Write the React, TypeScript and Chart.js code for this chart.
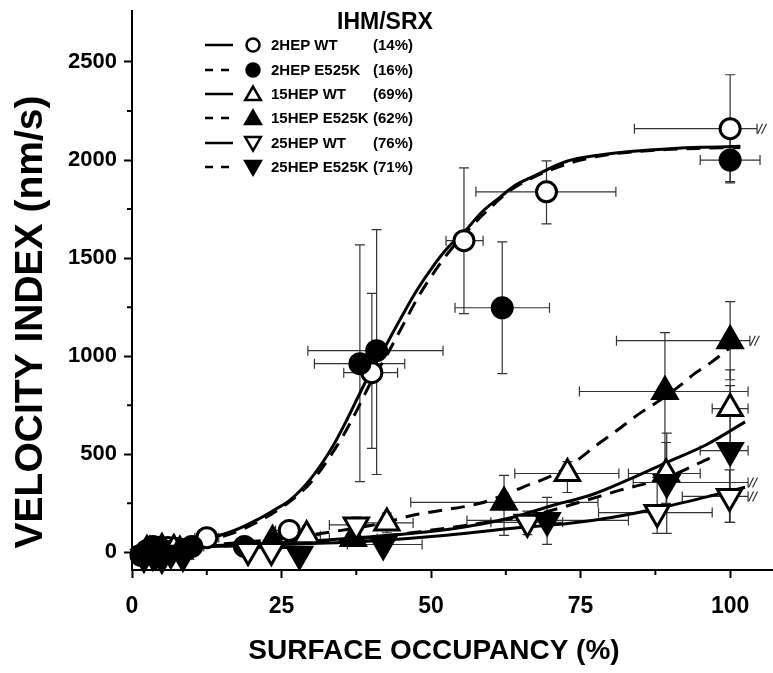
import { useEffect, useRef } from 'react';
import { Chart, registerables } from 'chart.js';
Chart.register(...registerables);

// [x, y, xMin, xMax, yMin, yMax]
type P = [number, number, number | null, number | null, number | null, number | null];

const hep2Wt: P[] = [
  [3, 10, null, null, null, null],
  [6, 25, null, null, null, null],
  [8.5, 15, null, null, null, null],
  [12.5, 75, 10.5, 14.5, 45, 105],
  [26.3, 112, 24, 28.5, 80, 140],
  [40.1, 916, 35.4, 44.4, 530, 1320],
  [55.5, 1589, 52.5, 58.7, 1217, 1960],
  [69.3, 1838, 57.5, 80.9, 1675, 1996],
  [100, 2160, 84, 104.5, 1890, 2435],
];
const hep2Mut: P[] = [
  [1.5, -15, null, null, null, null],
  [2.5, 10, null, null, null, null],
  [3.5, 30, null, null, null, null],
  [4.5, 25, null, null, null, null],
  [5.5, 5, null, null, null, null],
  [7.5, 20, null, null, null, null],
  [10, 30, 8, 12, 0, 60],
  [18.8, 30, null, null, null, null],
  [38.1, 962, 30.5, 45.6, 361, 1568],
  [40.9, 1028, 29.4, 52, 397, 1645],
  [61.9, 1247, 54, 69.8, 911, 1583],
  [100, 2000, 95, 105, 1884, 2120],
];
const hep15Wt: P[] = [
  [3, 5, null, null, null, null],
  [7, 15, null, null, null, null],
  [29.2, 85, 27, 31.5, 60, 120],
  [42.6, 150, 38, 47, 100, 200],
  [72.8, 402, 64, 81.4, 305, 463],
  [89.3, 402, 83, 95, 250, 560],
  [100, 733, 97, 103, 560, 930],
];
const hep15Mut: P[] = [
  [2.5, 10, null, null, null, null],
  [5, 20, null, null, null, null],
  [8, 5, null, null, null, null],
  [23.5, 60, null, null, null, null],
  [37, 70, 33, 41, 40, 100],
  [62.2, 255, 46.6, 77.9, 87, 392],
  [89.1, 820, 74.8, 103, 400, 1120],
  [100, 1079, 81, 103.3, 880, 1278],
];
const hep25Wt: P[] = [
  [4, -10, null, null, null, null],
  [19.4, 10, null, null, null, null],
  [23.3, 10, null, null, null, null],
  [37.5, 140, 33, 42, 100, 180],
  [66.1, 153, 60, 72, 90, 210],
  [87.8, 203, 78, 97, 97, 382],
  [99.9, 285, 92, 103, 153, 420],
];
const hep25Mut: P[] = [
  [2, -25, null, null, null, null],
  [3.5, -15, null, null, null, null],
  [5, -30, null, null, null, null],
  [6.5, -5, null, null, null, null],
  [8.5, -20, null, null, null, null],
  [28, -10, null, null, null, null],
  [42, 40, 36, 48.5, 0, 80],
  [69.4, 163, 56, 83, 41, 280],
  [89.4, 356, 83.8, 103, 97, 608],
  [100, 519, 95, 103, 153, 850],
];

// fitted curves [x, y]
const fit2Wt: [number, number][] = [
  [0, 25], [5, 35], [10, 50], [13, 72], [17, 110], [20.8, 164], [24, 220], [26.4, 266], [30, 380],
  [33.5, 537], [36, 680], [39.2, 879], [42, 1030], [44.8, 1186], [47.5, 1330], [50.3, 1457],
  [53, 1560], [55.9, 1646], [58.5, 1735], [61.5, 1810], [64, 1870], [67.1, 1917], [72.7, 1994],
  [78, 2025], [83.8, 2045], [90, 2058], [95, 2065], [101.7, 2070],
];
const fit2Mut: [number, number][] = [
  [0, 20], [5, 30], [10, 45], [13, 65], [17, 100], [21, 155], [26, 250], [30, 360], [34, 530],
  [36.5, 660], [40, 870], [42.5, 1000], [45.5, 1170], [48, 1310], [51, 1450], [54, 1570],
  [57, 1670], [60, 1760], [63, 1840], [66, 1895], [70, 1950], [75, 2000], [80, 2030],
  [85, 2045], [90, 2055], [95, 2060], [101.7, 2064],
];
const fit15Mut: [number, number][] = [
  [0, 20], [10, 35], [20, 55], [30, 90], [42, 150], [47, 189], [52, 215], [58.2, 250],
  [62, 290], [65.4, 333], [70.4, 394], [74, 460], [77.7, 547], [81, 620], [85, 711],
  [88, 770], [91.6, 850], [94, 910], [96.7, 966], [101.7, 1084],
];
const fit15Wt: [number, number][] = [
  [0, 20], [10, 30], [20, 42], [30, 58], [40, 80], [47, 97], [55.3, 128], [63.7, 179],
  [70.4, 240], [76.6, 291], [82.8, 368], [89.5, 460], [96.1, 550], [102.5, 665],
];
const fit25Mut: [number, number][] = [
  [0, 20], [10, 28], [20, 38], [30, 52], [40, 75], [49.8, 112], [58.2, 148], [68.2, 199],
  [74.9, 256], [81.6, 317], [89.5, 383], [96.6, 481],
];
const fit25Wt: [number, number][] = [
  [0, 20], [10, 27], [20, 35], [30, 45], [41.4, 61], [52.6, 87], [63.7, 123], [73.2, 148],
  [80.4, 179], [88.8, 230], [97.2, 291], [102.5, 332],
];

const seriesNames = ['2HEP WT', '2HEP E525K', '15HEP WT', '15HEP E525K', '25HEP WT', '25HEP E525K'];
const seriesPct = ['(14%)', '(16%)', '(69%)', '(62%)', '(76%)', '(71%)'];
const seriesMarker = ['circle', 'circle', 'up', 'up', 'down', 'down'];
const seriesFilled = [false, true, false, true, false, true];
const seriesDashed = [false, true, false, true, false, true];
const seriesPoints = [hep2Wt, hep2Mut, hep15Wt, hep15Mut, hep25Wt, hep25Mut];
const seriesFits = [fit2Wt, fit2Mut, fit15Wt, fit15Mut, fit25Wt, fit25Mut];

const xMajor = [0, 25, 50, 75, 100];
const xMinor = [12.5, 37.5, 62.5, 87.5];
const yMajor = [0, 500, 1000, 1500, 2000, 2500];
const yMinor = [250, 750, 1250, 1750, 2250];
const breakMarks: [number, number][] = [[105, 2160], [103.8, 1079], [103.5, 356], [103.5, 285]];
const xTitle = 'SURFACE OCCUPANCY (%)';
const yTitle = 'VELOCITY INDEX (nm/s)';
const legendTitle = 'IHM/SRX';

const FONT = "'Liberation Sans', Arial, sans-serif";

function drawMarker(ctx: CanvasRenderingContext2D, kind: string, x: number, y: number, r: number, filled: boolean, lw: number) {
  ctx.beginPath();
  if (kind === 'circle') {
    ctx.arc(x, y, r, 0, Math.PI * 2);
  } else {
    const s = kind === 'up' ? 1 : -1;
    for (let k = 0; k < 3; k++) {
      const a = (k * 2 * Math.PI) / 3;
      const px = x + Math.sin(a) * r;
      const py = y - s * Math.cos(a) * r;
      if (k === 0) ctx.moveTo(px, py); else ctx.lineTo(px, py);
    }
    ctx.closePath();
  }
  ctx.fillStyle = filled ? '#000' : '#fff';
  ctx.fill();
  ctx.lineWidth = lw;
  ctx.strokeStyle = '#000';
  ctx.lineJoin = 'miter';
  ctx.stroke();
}

const extrasPlugin = {
  id: 'extras',
  beforeDatasetsDraw(chart: any) {
    const { ctx, scales } = chart;
    const xs = scales.x, ys = scales.y;
    ctx.save();
    ctx.strokeStyle = '#333';
    ctx.lineWidth = 1.2;
    const cap = 5;
    seriesPoints.forEach((pts) => {
      pts.forEach((p) => {
        const px = xs.getPixelForValue(p[0]);
        const py = ys.getPixelForValue(p[1]);
        if (p[2] !== null && p[3] !== null) {
          const a = xs.getPixelForValue(p[2]);
          const b = xs.getPixelForValue(p[3]);
          ctx.beginPath();
          ctx.moveTo(a, py); ctx.lineTo(b, py);
          ctx.moveTo(a, py - cap); ctx.lineTo(a, py + cap);
          ctx.moveTo(b, py - cap); ctx.lineTo(b, py + cap);
          ctx.stroke();
        }
        if (p[4] !== null && p[5] !== null) {
          const a = ys.getPixelForValue(p[4]);
          const b = ys.getPixelForValue(p[5]);
          ctx.beginPath();
          ctx.moveTo(px, a); ctx.lineTo(px, b);
          ctx.moveTo(px - cap, a); ctx.lineTo(px + cap, a);
          ctx.moveTo(px - cap, b); ctx.lineTo(px + cap, b);
          ctx.stroke();
        }
      });
    });
    breakMarks.forEach(([bx, by]) => {
      const px = xs.getPixelForValue(bx);
      const py = ys.getPixelForValue(by);
      ctx.beginPath();
      for (const o of [0, 4]) {
        ctx.moveTo(px + o - 2.5, py + 5);
        ctx.lineTo(px + o + 2.5, py - 5);
      }
      ctx.stroke();
    });
    ctx.restore();
  },
  afterDatasetsDraw(chart: any) {
    const { ctx, scales } = chart;
    const xs = scales.x, ys = scales.y;
    ctx.save();
    seriesPoints.forEach((pts, i) => {
      pts.forEach((p) => {
        const px = xs.getPixelForValue(p[0]);
        const py = ys.getPixelForValue(p[1]);
        drawMarker(ctx, seriesMarker[i], px, py, seriesMarker[i] === 'circle' ? 10 : 14, seriesFilled[i], 3);
      });
    });
    ctx.restore();
  },
  afterDraw(chart: any) {
    const { ctx, scales } = chart;
    const xs = scales.x, ys = scales.y;
    ctx.save();
    ctx.strokeStyle = '#000';
    ctx.lineWidth = 2;
    const bottom = chart.chartArea.bottom;
    const left = chart.chartArea.left;
    ctx.beginPath();
    xMinor.forEach((v) => {
      const px = xs.getPixelForValue(v);
      ctx.moveTo(px, bottom); ctx.lineTo(px, bottom + 5);
    });
    yMinor.forEach((v) => {
      const py = ys.getPixelForValue(v);
      ctx.moveTo(left, py); ctx.lineTo(left - 5, py);
    });
    ctx.stroke();
    // axis titles
    ctx.fillStyle = '#000';
    ctx.textAlign = 'center';
    ctx.textBaseline = 'middle';
    ctx.font = `bold 28px ${FONT}`;
    ctx.fillText(xTitle, 434, 651);
    ctx.save();
    ctx.translate(31, 322);
    ctx.rotate(-Math.PI / 2);
    ctx.font = `bold 39px ${FONT}`;
    ctx.fillText(yTitle, 0, 0);
    ctx.restore();
    // legend
    ctx.textAlign = 'left';
    ctx.font = `bold 23px ${FONT}`;
    ctx.fillText(legendTitle, 337, 23);
    const rows = [45, 70, 94, 118, 143, 167];
    ctx.font = `bold 15px ${FONT}`;
    seriesNames.forEach((name, i) => {
      const y = rows[i];
      ctx.save();
      ctx.strokeStyle = '#000';
      ctx.lineWidth = 2.5;
      ctx.setLineDash(seriesDashed[i] ? [8, 8] : []);
      ctx.beginPath();
      ctx.moveTo(205, y); ctx.lineTo(233, y);
      ctx.stroke();
      ctx.restore();
      drawMarker(ctx, seriesMarker[i], 253, y + (seriesMarker[i] === 'up' ? 1.5 : seriesMarker[i] === 'down' ? -1.5 : 0), seriesMarker[i] === 'circle' ? 6.5 : 9, seriesFilled[i], 2.5);
      ctx.fillStyle = '#000';
      ctx.fillText(name, 271, y + 1);
      ctx.fillText(seriesPct[i], 373, y + 1);
    });
    ctx.restore();
  },
};

export default function App() {
  const ref = useRef<HTMLCanvasElement>(null);
  useEffect(() => {
    const canvas = ref.current!;
    const fitSets = seriesFits.map((f, i) => ({
      type: 'line' as const,
      label: seriesNames[i] + ' fit',
      data: f.map(([x, y]) => ({ x, y })),
      borderColor: '#000',
      borderWidth: 3,
      borderDash: seriesDashed[i] ? [14, 9] : [],
      pointRadius: 0,
      showLine: true,
      fill: false,
      cubicInterpolationMode: 'monotone' as const,
    }));
    const pointSets = seriesPoints.map((pts, i) => ({
      type: 'scatter' as const,
      label: seriesNames[i],
      data: pts.map((p) => ({ x: p[0], y: p[1] })),
      pointRadius: 0,
      showLine: false,
    }));
    const chart = new Chart(canvas, {
      type: 'scatter',
      data: { datasets: [...pointSets, ...fitSets] as any },
      options: {
        animation: false,
        responsive: true,
        maintainAspectRatio: false,
        layout: { padding: { top: 11, right: 1, left: 0, bottom: 0 } },
        plugins: { legend: { display: false }, tooltip: { enabled: false } },
        scales: {
          x: {
            type: 'linear',
            min: 0,
            max: 107,
            afterBuildTicks: (axis: any) => { axis.ticks = xMajor.map((v) => ({ value: v })); },
            afterFit: (axis: any) => { axis.height = 103; axis.paddingLeft = 0; axis.paddingRight = 0; },
            grid: { drawOnChartArea: false, drawTicks: true, tickLength: 8, tickWidth: 2, tickColor: '#000' },
            border: { display: true, width: 2, color: '#000' },
            ticks: { color: '#000', font: { family: FONT, size: 23, weight: 'bold' }, padding: 15, maxRotation: 0, autoSkip: false, callback: (v: any) => String(v) },
            title: { display: false },
          },
          y: {
            type: 'linear',
            min: -90,
            max: 2760,
            afterBuildTicks: (axis: any) => { axis.ticks = yMajor.map((v) => ({ value: v })); },
            afterFit: (axis: any) => { axis.width = 132; axis.paddingTop = 0; axis.paddingBottom = 0; },
            grid: { drawOnChartArea: false, drawTicks: true, tickLength: 8, tickWidth: 2, tickColor: '#000' },
            border: { display: true, width: 2, color: '#000' },
            ticks: { color: '#000', font: { family: FONT, size: 22, weight: 'bold' }, padding: 7, callback: (v: any) => String(v) },
            title: { display: false },
          },
        },
      },
      plugins: [extrasPlugin],
    });
    return () => chart.destroy();
  }, []);
  return (
    <div style={{ position: 'fixed', left: 0, top: 0, width: 773, height: 673, background: '#fff' }}>
      <canvas ref={ref} />
    </div>
  );
}
